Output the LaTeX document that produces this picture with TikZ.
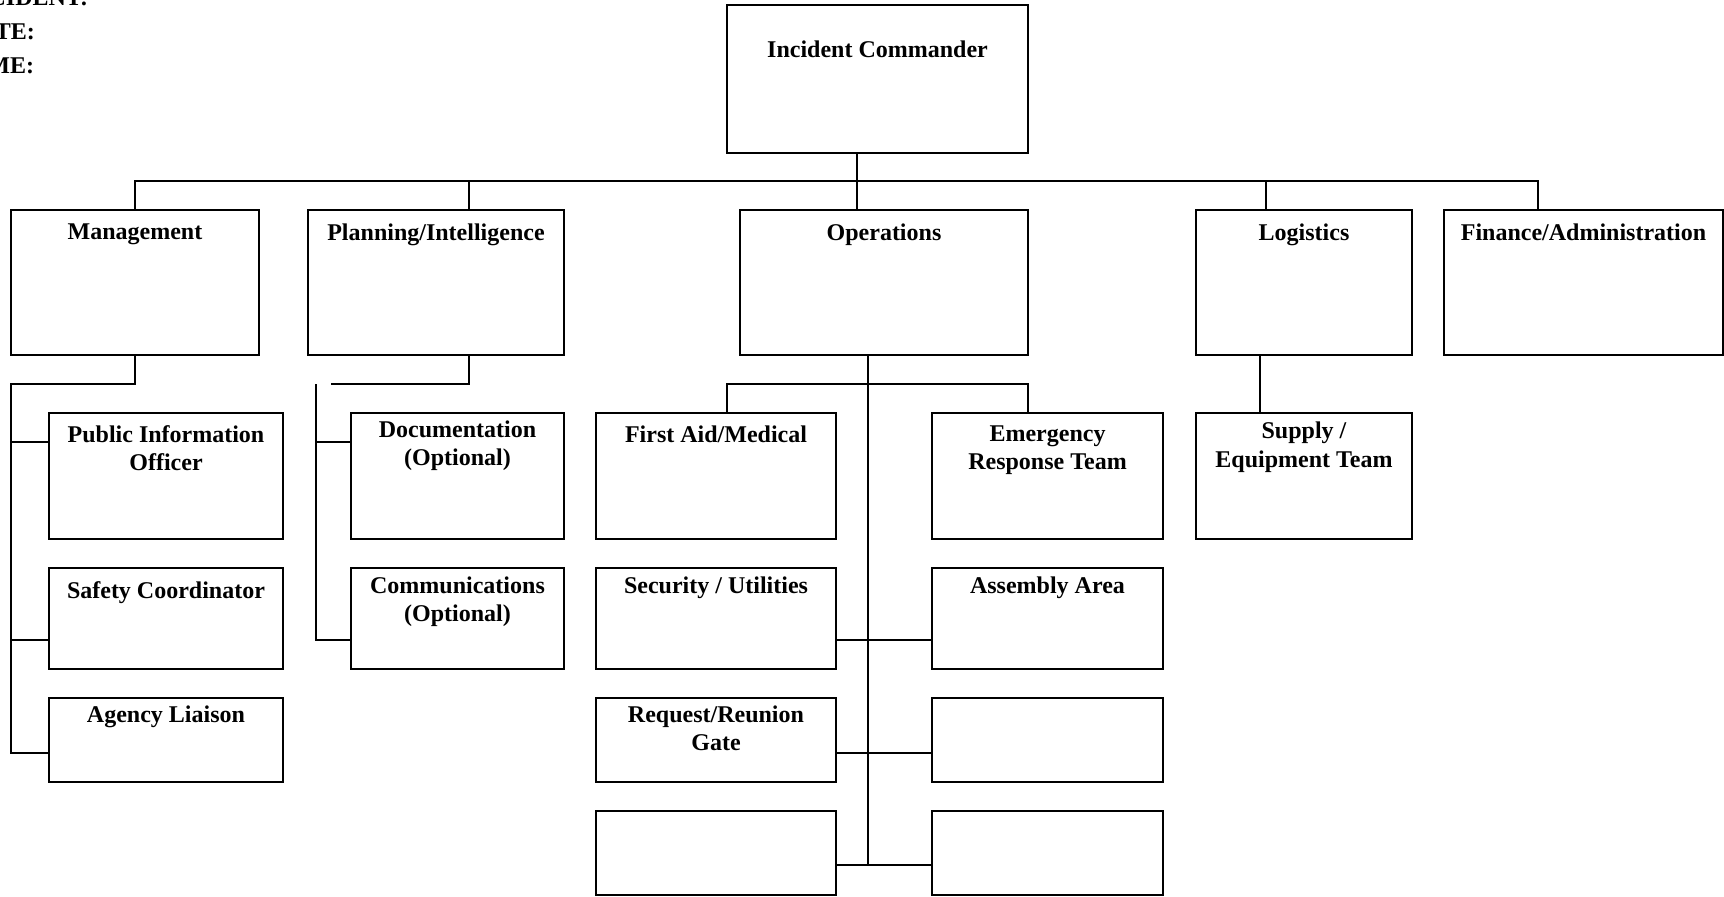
\documentclass[tikz,border=0pt]{standalone}
\usepackage{fontspec}
\setmainfont{Liberation Serif}
\usepackage{tikz}
\usetikzlibrary{positioning}

\begin{document}
\begin{tikzpicture}
	[x=0.5pt, y=-0.5pt, line width=1pt,
	 box/.style={draw, rectangle, anchor=north west, inner sep=0pt, outer sep=0pt},
	 lbl/.style={font=\bfseries\fontsize{12}{14}\selectfont, align=center, inner sep=0pt, anchor=north},
	 hdr/.style={font=\bfseries\fontsize{12}{14}\selectfont, inner sep=0pt, anchor=base west}]
   \useasboundingbox (0,0) rectangle (1724,896);
   \clip (0,0) rectangle (1724,896);

   \node[hdr] (inc)  at (-39,5)  {INCIDENT:};
   \node[hdr] (date) at (-39,39) {DATE:};
   \node[hdr] (time) at (-39,73) {TIME:};

   \node[box, minimum width=150.5pt, minimum height=74pt, label={[lbl,yshift=-17.5pt]north:Incident Commander}] (ic) at (727,5) {};

   % sections
   \node[box, minimum width=124pt, minimum height=72.5pt, label={[lbl,yshift=-6.5pt]north:Management}] (mgmt) at (11,210) {};
   \node[box, minimum width=128pt, minimum height=72.5pt, label={[lbl,yshift=-6.5pt]north:Planning/Intelligence}] (plan) at (308,210) {};
   \node[box, minimum width=144pt, minimum height=72.5pt, label={[lbl,yshift=-6.5pt]north:Operations}] (ops) at (740,210) {};
   \node[box, minimum width=108pt, minimum height=72.5pt, label={[lbl,yshift=-6.5pt]north:Logistics}] (log) at (1196,210) {};
   \node[box, minimum width=139.5pt, minimum height=72.5pt, label={[lbl,yshift=-6.5pt]north:Finance/Administration}] (fin) at (1444,210) {};

   % management
   \node[box, minimum width=117pt, minimum height=63pt, label={[lbl,yshift=-6pt]north:{Public Information\\Officer}}] (pio) at (49,413) {};
   \node[box, minimum width=117pt, minimum height=50.5pt, label={[lbl,yshift=-6.5pt]north:Safety Coordinator}] (safety) at (49,568) {};
   \node[box, minimum width=117pt, minimum height=42pt, label={[lbl,yshift=-3.5pt]north:Agency Liaison}] (agency) at (49,698) {};

   % planning
   \node[box, minimum width=106.5pt, minimum height=63pt, label={[lbl,yshift=-3.5pt]north:{Documentation\\(Optional)}}] (doc) at (351,413) {};
   \node[box, minimum width=106.5pt, minimum height=50.5pt, label={[lbl,yshift=-4pt]north:{Communications\\(Optional)}}] (comm) at (351,568) {};

   % operations
   \node[box, minimum width=120pt, minimum height=63pt, label={[lbl,yshift=-6pt]north:First Aid/Medical}] (firstaid) at (596,413) {};
   \node[box, minimum width=115.5pt, minimum height=63pt, label={[lbl,yshift=-6pt]north:{Emergency\\Response Team}}] (ert) at (932,413) {};
   \node[box, minimum width=120pt, minimum height=50.5pt, label={[lbl,yshift=-4pt]north:Security / Utilities}] (secu) at (596,568) {};
   \node[box, minimum width=115.5pt, minimum height=50.5pt, label={[lbl,yshift=-4pt]north:Assembly Area}] (assem) at (932,568) {};
   \node[box, minimum width=120pt, minimum height=42pt, label={[lbl,yshift=-3.5pt]north:{Request/Reunion\\Gate}}] (request) at (596,698) {};
   \node[box, minimum width=115.5pt, minimum height=42pt] (blankA) at (932,698) {};
   \node[box, minimum width=120pt, minimum height=42pt] (blankB) at (596,811) {};
   \node[box, minimum width=115.5pt, minimum height=42pt] (blankC) at (932,811) {};

   % logistics
   \node[box, minimum width=108pt, minimum height=63pt, label={[lbl,yshift=-4pt]north:{Supply /\\[0.5pt]Equipment Team}}] (supply) at (1196,413) {};

   \coordinate (bus)  at (857,181);
   \coordinate (mtop) at (11,384);
   \coordinate (ptop) at (316,384);
   \coordinate (pgap) at (331,384);
   \coordinate (obar) at (868,384);
   \coordinate (oend) at (868,865);

   % top level
   \draw (ic.south -| bus) -- (ops.north -| bus);
   \draw (mgmt.north) |- (bus) -| ([xshift=-22.75pt]fin.north);
   \draw ([xshift=16.5pt]plan.north) |- (bus);
   \draw ([xshift=-19pt]log.north) |- (bus);

   \draw (mgmt.south) |- (mtop) |- ([yshift=-27.5pt]agency.north west);
   \draw ([yshift=-14.5pt]pio.north west) -| (mtop);
   \draw ([yshift=-36pt]safety.north west) -| (mtop);

   \draw ([xshift=16.5pt]plan.south) |- (pgap);
   \draw (ptop) |- ([yshift=-36pt]comm.north west);
   \draw ([yshift=-14.5pt]doc.north west) -| (ptop);

   \draw ([xshift=-8pt]ops.south) -- (oend);
   \draw ([xshift=5.5pt]firstaid.north) |- (obar) -| ([xshift=-9.75pt]ert.north);
   \draw ([yshift=-36pt]secu.north east) -- ([yshift=-36pt]assem.north west);
   \draw ([yshift=-27.5pt]request.north east) -- ([yshift=-27.5pt]blankA.north west);
   \draw ([yshift=-27pt]blankB.north east) -- ([yshift=-27pt]blankC.north west);

   \draw ([xshift=-22pt]log.south) -- ([xshift=-22pt]supply.north);
\end{tikzpicture}
\end{document}
